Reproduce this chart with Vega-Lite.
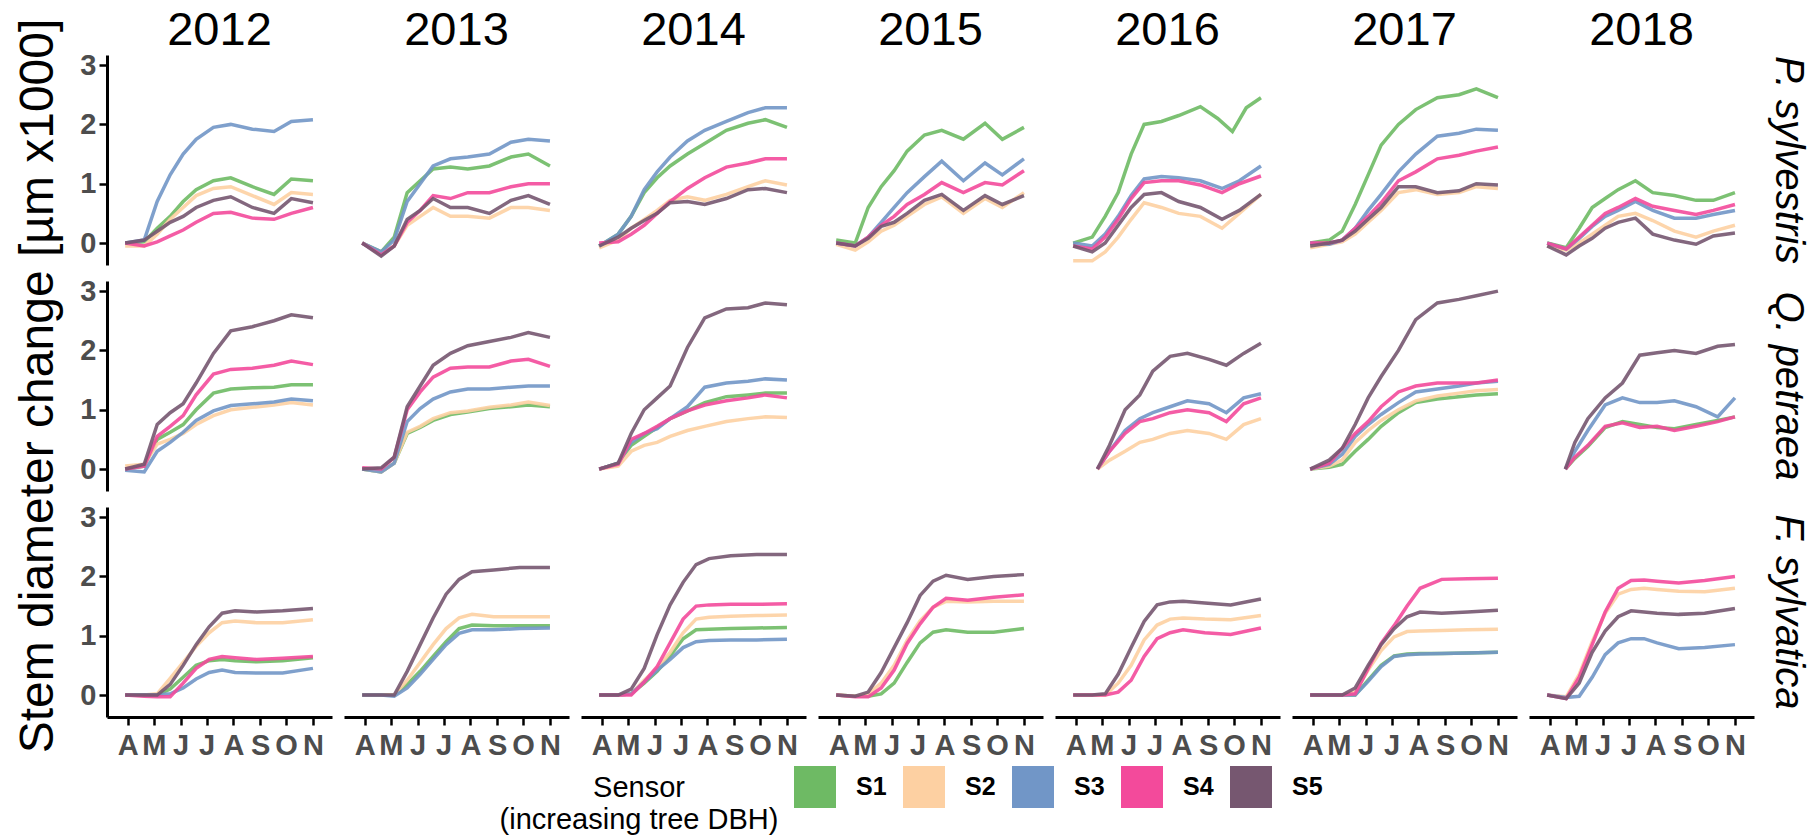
{
"$schema":"https://vega.github.io/schema/vega-lite/v6.json",
"padding":{"left":14,"top":7,"right":4,"bottom":2},
"data":{"values":[
{"c":2012,"r":1,"s":"S1","d":88,"v":0},{"c":2012,"r":1,"s":"S1","d":110,"v":0.02},{"c":2012,"r":1,"s":"S1","d":125,"v":0.25},{"c":2012,"r":1,"s":"S1","d":140,"v":0.45},{"c":2012,"r":1,"s":"S1","d":155,"v":0.7},{"c":2012,"r":1,"s":"S1","d":170,"v":0.9},{"c":2012,"r":1,"s":"S1","d":190,"v":1.05},{"c":2012,"r":1,"s":"S1","d":210,"v":1.1},{"c":2012,"r":1,"s":"S1","d":235,"v":0.95},{"c":2012,"r":1,"s":"S1","d":260,"v":0.82},{"c":2012,"r":1,"s":"S1","d":280,"v":1.08},{"c":2012,"r":1,"s":"S1","d":305,"v":1.05},
{"c":2012,"r":1,"s":"S2","d":88,"v":-0.05},{"c":2012,"r":1,"s":"S2","d":110,"v":-0.05},{"c":2012,"r":1,"s":"S2","d":125,"v":0.15},{"c":2012,"r":1,"s":"S2","d":140,"v":0.4},{"c":2012,"r":1,"s":"S2","d":155,"v":0.6},{"c":2012,"r":1,"s":"S2","d":170,"v":0.8},{"c":2012,"r":1,"s":"S2","d":190,"v":0.92},{"c":2012,"r":1,"s":"S2","d":210,"v":0.95},{"c":2012,"r":1,"s":"S2","d":235,"v":0.8},{"c":2012,"r":1,"s":"S2","d":260,"v":0.65},{"c":2012,"r":1,"s":"S2","d":280,"v":0.85},{"c":2012,"r":1,"s":"S2","d":305,"v":0.82},
{"c":2012,"r":1,"s":"S3","d":88,"v":0},{"c":2012,"r":1,"s":"S3","d":110,"v":0.05},{"c":2012,"r":1,"s":"S3","d":125,"v":0.7},{"c":2012,"r":1,"s":"S3","d":140,"v":1.15},{"c":2012,"r":1,"s":"S3","d":155,"v":1.5},{"c":2012,"r":1,"s":"S3","d":170,"v":1.75},{"c":2012,"r":1,"s":"S3","d":190,"v":1.95},{"c":2012,"r":1,"s":"S3","d":210,"v":2.0},{"c":2012,"r":1,"s":"S3","d":235,"v":1.92},{"c":2012,"r":1,"s":"S3","d":260,"v":1.88},{"c":2012,"r":1,"s":"S3","d":280,"v":2.05},{"c":2012,"r":1,"s":"S3","d":305,"v":2.08},
{"c":2012,"r":1,"s":"S4","d":88,"v":0},{"c":2012,"r":1,"s":"S4","d":110,"v":-0.05},{"c":2012,"r":1,"s":"S4","d":125,"v":0.02},{"c":2012,"r":1,"s":"S4","d":140,"v":0.12},{"c":2012,"r":1,"s":"S4","d":155,"v":0.22},{"c":2012,"r":1,"s":"S4","d":170,"v":0.35},{"c":2012,"r":1,"s":"S4","d":190,"v":0.5},{"c":2012,"r":1,"s":"S4","d":210,"v":0.52},{"c":2012,"r":1,"s":"S4","d":235,"v":0.42},{"c":2012,"r":1,"s":"S4","d":260,"v":0.4},{"c":2012,"r":1,"s":"S4","d":280,"v":0.5},{"c":2012,"r":1,"s":"S4","d":305,"v":0.6},
{"c":2012,"r":1,"s":"S5","d":88,"v":0},{"c":2012,"r":1,"s":"S5","d":110,"v":0.05},{"c":2012,"r":1,"s":"S5","d":125,"v":0.2},{"c":2012,"r":1,"s":"S5","d":140,"v":0.35},{"c":2012,"r":1,"s":"S5","d":155,"v":0.45},{"c":2012,"r":1,"s":"S5","d":170,"v":0.6},{"c":2012,"r":1,"s":"S5","d":190,"v":0.72},{"c":2012,"r":1,"s":"S5","d":210,"v":0.78},{"c":2012,"r":1,"s":"S5","d":235,"v":0.6},{"c":2012,"r":1,"s":"S5","d":260,"v":0.5},{"c":2012,"r":1,"s":"S5","d":280,"v":0.75},{"c":2012,"r":1,"s":"S5","d":305,"v":0.68},
{"c":2013,"r":1,"s":"S1","d":88,"v":0},{"c":2013,"r":1,"s":"S1","d":110,"v":-0.15},{"c":2013,"r":1,"s":"S1","d":125,"v":0.1},{"c":2013,"r":1,"s":"S1","d":140,"v":0.85},{"c":2013,"r":1,"s":"S1","d":155,"v":1.05},{"c":2013,"r":1,"s":"S1","d":170,"v":1.25},{"c":2013,"r":1,"s":"S1","d":190,"v":1.28},{"c":2013,"r":1,"s":"S1","d":210,"v":1.25},{"c":2013,"r":1,"s":"S1","d":235,"v":1.3},{"c":2013,"r":1,"s":"S1","d":260,"v":1.45},{"c":2013,"r":1,"s":"S1","d":280,"v":1.5},{"c":2013,"r":1,"s":"S1","d":305,"v":1.3},
{"c":2013,"r":1,"s":"S2","d":88,"v":0},{"c":2013,"r":1,"s":"S2","d":110,"v":-0.18},{"c":2013,"r":1,"s":"S2","d":125,"v":-0.05},{"c":2013,"r":1,"s":"S2","d":140,"v":0.3},{"c":2013,"r":1,"s":"S2","d":155,"v":0.45},{"c":2013,"r":1,"s":"S2","d":170,"v":0.6},{"c":2013,"r":1,"s":"S2","d":190,"v":0.45},{"c":2013,"r":1,"s":"S2","d":210,"v":0.45},{"c":2013,"r":1,"s":"S2","d":235,"v":0.42},{"c":2013,"r":1,"s":"S2","d":260,"v":0.6},{"c":2013,"r":1,"s":"S2","d":280,"v":0.6},{"c":2013,"r":1,"s":"S2","d":305,"v":0.55},
{"c":2013,"r":1,"s":"S3","d":88,"v":0},{"c":2013,"r":1,"s":"S3","d":110,"v":-0.15},{"c":2013,"r":1,"s":"S3","d":125,"v":0.05},{"c":2013,"r":1,"s":"S3","d":140,"v":0.7},{"c":2013,"r":1,"s":"S3","d":155,"v":1.0},{"c":2013,"r":1,"s":"S3","d":170,"v":1.3},{"c":2013,"r":1,"s":"S3","d":190,"v":1.42},{"c":2013,"r":1,"s":"S3","d":210,"v":1.45},{"c":2013,"r":1,"s":"S3","d":235,"v":1.5},{"c":2013,"r":1,"s":"S3","d":260,"v":1.7},{"c":2013,"r":1,"s":"S3","d":280,"v":1.75},{"c":2013,"r":1,"s":"S3","d":305,"v":1.72},
{"c":2013,"r":1,"s":"S4","d":88,"v":0},{"c":2013,"r":1,"s":"S4","d":110,"v":-0.2},{"c":2013,"r":1,"s":"S4","d":125,"v":-0.05},{"c":2013,"r":1,"s":"S4","d":140,"v":0.35},{"c":2013,"r":1,"s":"S4","d":155,"v":0.55},{"c":2013,"r":1,"s":"S4","d":170,"v":0.8},{"c":2013,"r":1,"s":"S4","d":190,"v":0.75},{"c":2013,"r":1,"s":"S4","d":210,"v":0.85},{"c":2013,"r":1,"s":"S4","d":235,"v":0.85},{"c":2013,"r":1,"s":"S4","d":260,"v":0.95},{"c":2013,"r":1,"s":"S4","d":280,"v":1.0},{"c":2013,"r":1,"s":"S4","d":305,"v":1.0},
{"c":2013,"r":1,"s":"S5","d":88,"v":0},{"c":2013,"r":1,"s":"S5","d":110,"v":-0.22},{"c":2013,"r":1,"s":"S5","d":125,"v":-0.05},{"c":2013,"r":1,"s":"S5","d":140,"v":0.4},{"c":2013,"r":1,"s":"S5","d":155,"v":0.55},{"c":2013,"r":1,"s":"S5","d":170,"v":0.75},{"c":2013,"r":1,"s":"S5","d":190,"v":0.6},{"c":2013,"r":1,"s":"S5","d":210,"v":0.6},{"c":2013,"r":1,"s":"S5","d":235,"v":0.5},{"c":2013,"r":1,"s":"S5","d":260,"v":0.72},{"c":2013,"r":1,"s":"S5","d":280,"v":0.8},{"c":2013,"r":1,"s":"S5","d":305,"v":0.65},
{"c":2014,"r":1,"s":"S1","d":88,"v":-0.05},{"c":2014,"r":1,"s":"S1","d":110,"v":0.15},{"c":2014,"r":1,"s":"S1","d":125,"v":0.45},{"c":2014,"r":1,"s":"S1","d":140,"v":0.85},{"c":2014,"r":1,"s":"S1","d":155,"v":1.1},{"c":2014,"r":1,"s":"S1","d":170,"v":1.3},{"c":2014,"r":1,"s":"S1","d":190,"v":1.5},{"c":2014,"r":1,"s":"S1","d":210,"v":1.68},{"c":2014,"r":1,"s":"S1","d":235,"v":1.9},{"c":2014,"r":1,"s":"S1","d":260,"v":2.02},{"c":2014,"r":1,"s":"S1","d":280,"v":2.08},{"c":2014,"r":1,"s":"S1","d":305,"v":1.95},
{"c":2014,"r":1,"s":"S2","d":88,"v":-0.08},{"c":2014,"r":1,"s":"S2","d":110,"v":0.05},{"c":2014,"r":1,"s":"S2","d":125,"v":0.25},{"c":2014,"r":1,"s":"S2","d":140,"v":0.4},{"c":2014,"r":1,"s":"S2","d":155,"v":0.55},{"c":2014,"r":1,"s":"S2","d":170,"v":0.72},{"c":2014,"r":1,"s":"S2","d":190,"v":0.78},{"c":2014,"r":1,"s":"S2","d":210,"v":0.72},{"c":2014,"r":1,"s":"S2","d":235,"v":0.82},{"c":2014,"r":1,"s":"S2","d":260,"v":0.95},{"c":2014,"r":1,"s":"S2","d":280,"v":1.05},{"c":2014,"r":1,"s":"S2","d":305,"v":0.98},
{"c":2014,"r":1,"s":"S3","d":88,"v":-0.05},{"c":2014,"r":1,"s":"S3","d":110,"v":0.15},{"c":2014,"r":1,"s":"S3","d":125,"v":0.45},{"c":2014,"r":1,"s":"S3","d":140,"v":0.9},{"c":2014,"r":1,"s":"S3","d":155,"v":1.2},{"c":2014,"r":1,"s":"S3","d":170,"v":1.45},{"c":2014,"r":1,"s":"S3","d":190,"v":1.72},{"c":2014,"r":1,"s":"S3","d":210,"v":1.9},{"c":2014,"r":1,"s":"S3","d":235,"v":2.05},{"c":2014,"r":1,"s":"S3","d":260,"v":2.2},{"c":2014,"r":1,"s":"S3","d":280,"v":2.28},{"c":2014,"r":1,"s":"S3","d":305,"v":2.28},
{"c":2014,"r":1,"s":"S4","d":88,"v":0},{"c":2014,"r":1,"s":"S4","d":110,"v":0.02},{"c":2014,"r":1,"s":"S4","d":125,"v":0.15},{"c":2014,"r":1,"s":"S4","d":140,"v":0.3},{"c":2014,"r":1,"s":"S4","d":155,"v":0.5},{"c":2014,"r":1,"s":"S4","d":170,"v":0.7},{"c":2014,"r":1,"s":"S4","d":190,"v":0.92},{"c":2014,"r":1,"s":"S4","d":210,"v":1.1},{"c":2014,"r":1,"s":"S4","d":235,"v":1.28},{"c":2014,"r":1,"s":"S4","d":260,"v":1.35},{"c":2014,"r":1,"s":"S4","d":280,"v":1.42},{"c":2014,"r":1,"s":"S4","d":305,"v":1.42},
{"c":2014,"r":1,"s":"S5","d":88,"v":-0.05},{"c":2014,"r":1,"s":"S5","d":110,"v":0.1},{"c":2014,"r":1,"s":"S5","d":125,"v":0.25},{"c":2014,"r":1,"s":"S5","d":140,"v":0.38},{"c":2014,"r":1,"s":"S5","d":155,"v":0.5},{"c":2014,"r":1,"s":"S5","d":170,"v":0.68},{"c":2014,"r":1,"s":"S5","d":190,"v":0.7},{"c":2014,"r":1,"s":"S5","d":210,"v":0.65},{"c":2014,"r":1,"s":"S5","d":235,"v":0.75},{"c":2014,"r":1,"s":"S5","d":260,"v":0.9},{"c":2014,"r":1,"s":"S5","d":280,"v":0.92},{"c":2014,"r":1,"s":"S5","d":305,"v":0.85},
{"c":2015,"r":1,"s":"S1","d":88,"v":0.05},{"c":2015,"r":1,"s":"S1","d":110,"v":0},{"c":2015,"r":1,"s":"S1","d":125,"v":0.6},{"c":2015,"r":1,"s":"S1","d":140,"v":0.95},{"c":2015,"r":1,"s":"S1","d":155,"v":1.22},{"c":2015,"r":1,"s":"S1","d":170,"v":1.55},{"c":2015,"r":1,"s":"S1","d":190,"v":1.82},{"c":2015,"r":1,"s":"S1","d":210,"v":1.9},{"c":2015,"r":1,"s":"S1","d":235,"v":1.75},{"c":2015,"r":1,"s":"S1","d":260,"v":2.02},{"c":2015,"r":1,"s":"S1","d":280,"v":1.75},{"c":2015,"r":1,"s":"S1","d":305,"v":1.95},
{"c":2015,"r":1,"s":"S2","d":88,"v":-0.02},{"c":2015,"r":1,"s":"S2","d":110,"v":-0.12},{"c":2015,"r":1,"s":"S2","d":125,"v":0.02},{"c":2015,"r":1,"s":"S2","d":140,"v":0.2},{"c":2015,"r":1,"s":"S2","d":155,"v":0.3},{"c":2015,"r":1,"s":"S2","d":170,"v":0.45},{"c":2015,"r":1,"s":"S2","d":190,"v":0.65},{"c":2015,"r":1,"s":"S2","d":210,"v":0.78},{"c":2015,"r":1,"s":"S2","d":235,"v":0.5},{"c":2015,"r":1,"s":"S2","d":260,"v":0.75},{"c":2015,"r":1,"s":"S2","d":280,"v":0.6},{"c":2015,"r":1,"s":"S2","d":305,"v":0.85},
{"c":2015,"r":1,"s":"S3","d":88,"v":0},{"c":2015,"r":1,"s":"S3","d":110,"v":-0.05},{"c":2015,"r":1,"s":"S3","d":125,"v":0.1},{"c":2015,"r":1,"s":"S3","d":140,"v":0.35},{"c":2015,"r":1,"s":"S3","d":155,"v":0.6},{"c":2015,"r":1,"s":"S3","d":170,"v":0.85},{"c":2015,"r":1,"s":"S3","d":190,"v":1.12},{"c":2015,"r":1,"s":"S3","d":210,"v":1.38},{"c":2015,"r":1,"s":"S3","d":235,"v":1.05},{"c":2015,"r":1,"s":"S3","d":260,"v":1.35},{"c":2015,"r":1,"s":"S3","d":280,"v":1.15},{"c":2015,"r":1,"s":"S3","d":305,"v":1.42},
{"c":2015,"r":1,"s":"S4","d":88,"v":0},{"c":2015,"r":1,"s":"S4","d":110,"v":-0.05},{"c":2015,"r":1,"s":"S4","d":125,"v":0.1},{"c":2015,"r":1,"s":"S4","d":140,"v":0.3},{"c":2015,"r":1,"s":"S4","d":155,"v":0.45},{"c":2015,"r":1,"s":"S4","d":170,"v":0.65},{"c":2015,"r":1,"s":"S4","d":190,"v":0.82},{"c":2015,"r":1,"s":"S4","d":210,"v":1.02},{"c":2015,"r":1,"s":"S4","d":235,"v":0.85},{"c":2015,"r":1,"s":"S4","d":260,"v":1.02},{"c":2015,"r":1,"s":"S4","d":280,"v":0.98},{"c":2015,"r":1,"s":"S4","d":305,"v":1.22},
{"c":2015,"r":1,"s":"S5","d":88,"v":0},{"c":2015,"r":1,"s":"S5","d":110,"v":-0.05},{"c":2015,"r":1,"s":"S5","d":125,"v":0.08},{"c":2015,"r":1,"s":"S5","d":140,"v":0.28},{"c":2015,"r":1,"s":"S5","d":155,"v":0.35},{"c":2015,"r":1,"s":"S5","d":170,"v":0.5},{"c":2015,"r":1,"s":"S5","d":190,"v":0.72},{"c":2015,"r":1,"s":"S5","d":210,"v":0.82},{"c":2015,"r":1,"s":"S5","d":235,"v":0.55},{"c":2015,"r":1,"s":"S5","d":260,"v":0.8},{"c":2015,"r":1,"s":"S5","d":280,"v":0.65},{"c":2015,"r":1,"s":"S5","d":305,"v":0.8},
{"c":2016,"r":1,"s":"S1","d":88,"v":0},{"c":2016,"r":1,"s":"S1","d":110,"v":0.1},{"c":2016,"r":1,"s":"S1","d":125,"v":0.45},{"c":2016,"r":1,"s":"S1","d":140,"v":0.85},{"c":2016,"r":1,"s":"S1","d":155,"v":1.5},{"c":2016,"r":1,"s":"S1","d":170,"v":2.0},{"c":2016,"r":1,"s":"S1","d":190,"v":2.05},{"c":2016,"r":1,"s":"S1","d":210,"v":2.15},{"c":2016,"r":1,"s":"S1","d":235,"v":2.3},{"c":2016,"r":1,"s":"S1","d":255,"v":2.1},{"c":2016,"r":1,"s":"S1","d":272,"v":1.88},{"c":2016,"r":1,"s":"S1","d":288,"v":2.28},{"c":2016,"r":1,"s":"S1","d":305,"v":2.45},
{"c":2016,"r":1,"s":"S2","d":88,"v":-0.3},{"c":2016,"r":1,"s":"S2","d":110,"v":-0.3},{"c":2016,"r":1,"s":"S2","d":125,"v":-0.15},{"c":2016,"r":1,"s":"S2","d":140,"v":0.1},{"c":2016,"r":1,"s":"S2","d":155,"v":0.4},{"c":2016,"r":1,"s":"S2","d":170,"v":0.68},{"c":2016,"r":1,"s":"S2","d":190,"v":0.6},{"c":2016,"r":1,"s":"S2","d":210,"v":0.5},{"c":2016,"r":1,"s":"S2","d":235,"v":0.45},{"c":2016,"r":1,"s":"S2","d":260,"v":0.25},{"c":2016,"r":1,"s":"S2","d":280,"v":0.5},{"c":2016,"r":1,"s":"S2","d":305,"v":0.82},
{"c":2016,"r":1,"s":"S3","d":88,"v":0},{"c":2016,"r":1,"s":"S3","d":110,"v":-0.05},{"c":2016,"r":1,"s":"S3","d":125,"v":0.15},{"c":2016,"r":1,"s":"S3","d":140,"v":0.45},{"c":2016,"r":1,"s":"S3","d":155,"v":0.8},{"c":2016,"r":1,"s":"S3","d":170,"v":1.08},{"c":2016,"r":1,"s":"S3","d":190,"v":1.12},{"c":2016,"r":1,"s":"S3","d":210,"v":1.1},{"c":2016,"r":1,"s":"S3","d":235,"v":1.05},{"c":2016,"r":1,"s":"S3","d":260,"v":0.92},{"c":2016,"r":1,"s":"S3","d":280,"v":1.05},{"c":2016,"r":1,"s":"S3","d":305,"v":1.3},
{"c":2016,"r":1,"s":"S4","d":88,"v":-0.05},{"c":2016,"r":1,"s":"S4","d":110,"v":-0.1},{"c":2016,"r":1,"s":"S4","d":125,"v":0.1},{"c":2016,"r":1,"s":"S4","d":140,"v":0.4},{"c":2016,"r":1,"s":"S4","d":155,"v":0.75},{"c":2016,"r":1,"s":"S4","d":170,"v":1.02},{"c":2016,"r":1,"s":"S4","d":190,"v":1.05},{"c":2016,"r":1,"s":"S4","d":210,"v":1.05},{"c":2016,"r":1,"s":"S4","d":235,"v":0.98},{"c":2016,"r":1,"s":"S4","d":260,"v":0.85},{"c":2016,"r":1,"s":"S4","d":280,"v":1.0},{"c":2016,"r":1,"s":"S4","d":305,"v":1.13},
{"c":2016,"r":1,"s":"S5","d":88,"v":-0.05},{"c":2016,"r":1,"s":"S5","d":110,"v":-0.15},{"c":2016,"r":1,"s":"S5","d":125,"v":0},{"c":2016,"r":1,"s":"S5","d":140,"v":0.3},{"c":2016,"r":1,"s":"S5","d":155,"v":0.6},{"c":2016,"r":1,"s":"S5","d":170,"v":0.82},{"c":2016,"r":1,"s":"S5","d":190,"v":0.85},{"c":2016,"r":1,"s":"S5","d":210,"v":0.7},{"c":2016,"r":1,"s":"S5","d":235,"v":0.6},{"c":2016,"r":1,"s":"S5","d":260,"v":0.4},{"c":2016,"r":1,"s":"S5","d":280,"v":0.55},{"c":2016,"r":1,"s":"S5","d":305,"v":0.82},
{"c":2017,"r":1,"s":"S1","d":88,"v":0},{"c":2017,"r":1,"s":"S1","d":110,"v":0.05},{"c":2017,"r":1,"s":"S1","d":125,"v":0.2},{"c":2017,"r":1,"s":"S1","d":140,"v":0.65},{"c":2017,"r":1,"s":"S1","d":155,"v":1.15},{"c":2017,"r":1,"s":"S1","d":170,"v":1.65},{"c":2017,"r":1,"s":"S1","d":190,"v":2.0},{"c":2017,"r":1,"s":"S1","d":210,"v":2.25},{"c":2017,"r":1,"s":"S1","d":235,"v":2.45},{"c":2017,"r":1,"s":"S1","d":260,"v":2.5},{"c":2017,"r":1,"s":"S1","d":280,"v":2.6},{"c":2017,"r":1,"s":"S1","d":305,"v":2.45},
{"c":2017,"r":1,"s":"S2","d":88,"v":-0.08},{"c":2017,"r":1,"s":"S2","d":110,"v":-0.02},{"c":2017,"r":1,"s":"S2","d":125,"v":0.02},{"c":2017,"r":1,"s":"S2","d":140,"v":0.15},{"c":2017,"r":1,"s":"S2","d":155,"v":0.35},{"c":2017,"r":1,"s":"S2","d":170,"v":0.55},{"c":2017,"r":1,"s":"S2","d":190,"v":0.85},{"c":2017,"r":1,"s":"S2","d":210,"v":0.9},{"c":2017,"r":1,"s":"S2","d":235,"v":0.82},{"c":2017,"r":1,"s":"S2","d":260,"v":0.85},{"c":2017,"r":1,"s":"S2","d":280,"v":0.95},{"c":2017,"r":1,"s":"S2","d":305,"v":0.92},
{"c":2017,"r":1,"s":"S3","d":88,"v":0},{"c":2017,"r":1,"s":"S3","d":110,"v":-0.02},{"c":2017,"r":1,"s":"S3","d":125,"v":0.05},{"c":2017,"r":1,"s":"S3","d":140,"v":0.25},{"c":2017,"r":1,"s":"S3","d":155,"v":0.55},{"c":2017,"r":1,"s":"S3","d":170,"v":0.82},{"c":2017,"r":1,"s":"S3","d":190,"v":1.2},{"c":2017,"r":1,"s":"S3","d":210,"v":1.5},{"c":2017,"r":1,"s":"S3","d":235,"v":1.8},{"c":2017,"r":1,"s":"S3","d":260,"v":1.85},{"c":2017,"r":1,"s":"S3","d":280,"v":1.92},{"c":2017,"r":1,"s":"S3","d":305,"v":1.9},
{"c":2017,"r":1,"s":"S4","d":88,"v":0},{"c":2017,"r":1,"s":"S4","d":110,"v":0},{"c":2017,"r":1,"s":"S4","d":125,"v":0.05},{"c":2017,"r":1,"s":"S4","d":140,"v":0.25},{"c":2017,"r":1,"s":"S4","d":155,"v":0.45},{"c":2017,"r":1,"s":"S4","d":170,"v":0.68},{"c":2017,"r":1,"s":"S4","d":190,"v":1.05},{"c":2017,"r":1,"s":"S4","d":210,"v":1.2},{"c":2017,"r":1,"s":"S4","d":235,"v":1.42},{"c":2017,"r":1,"s":"S4","d":260,"v":1.48},{"c":2017,"r":1,"s":"S4","d":280,"v":1.55},{"c":2017,"r":1,"s":"S4","d":305,"v":1.62},
{"c":2017,"r":1,"s":"S5","d":88,"v":-0.05},{"c":2017,"r":1,"s":"S5","d":110,"v":0},{"c":2017,"r":1,"s":"S5","d":125,"v":0.05},{"c":2017,"r":1,"s":"S5","d":140,"v":0.2},{"c":2017,"r":1,"s":"S5","d":155,"v":0.4},{"c":2017,"r":1,"s":"S5","d":170,"v":0.6},{"c":2017,"r":1,"s":"S5","d":190,"v":0.95},{"c":2017,"r":1,"s":"S5","d":210,"v":0.95},{"c":2017,"r":1,"s":"S5","d":235,"v":0.85},{"c":2017,"r":1,"s":"S5","d":260,"v":0.88},{"c":2017,"r":1,"s":"S5","d":280,"v":1.0},{"c":2017,"r":1,"s":"S5","d":305,"v":0.98},
{"c":2018,"r":1,"s":"S1","d":88,"v":0},{"c":2018,"r":1,"s":"S1","d":110,"v":-0.08},{"c":2018,"r":1,"s":"S1","d":125,"v":0.25},{"c":2018,"r":1,"s":"S1","d":140,"v":0.6},{"c":2018,"r":1,"s":"S1","d":155,"v":0.75},{"c":2018,"r":1,"s":"S1","d":170,"v":0.9},{"c":2018,"r":1,"s":"S1","d":190,"v":1.05},{"c":2018,"r":1,"s":"S1","d":210,"v":0.85},{"c":2018,"r":1,"s":"S1","d":235,"v":0.8},{"c":2018,"r":1,"s":"S1","d":260,"v":0.72},{"c":2018,"r":1,"s":"S1","d":280,"v":0.72},{"c":2018,"r":1,"s":"S1","d":305,"v":0.85},
{"c":2018,"r":1,"s":"S2","d":88,"v":-0.05},{"c":2018,"r":1,"s":"S2","d":110,"v":-0.12},{"c":2018,"r":1,"s":"S2","d":125,"v":0},{"c":2018,"r":1,"s":"S2","d":140,"v":0.15},{"c":2018,"r":1,"s":"S2","d":155,"v":0.3},{"c":2018,"r":1,"s":"S2","d":170,"v":0.45},{"c":2018,"r":1,"s":"S2","d":190,"v":0.5},{"c":2018,"r":1,"s":"S2","d":210,"v":0.38},{"c":2018,"r":1,"s":"S2","d":235,"v":0.2},{"c":2018,"r":1,"s":"S2","d":260,"v":0.1},{"c":2018,"r":1,"s":"S2","d":280,"v":0.2},{"c":2018,"r":1,"s":"S2","d":305,"v":0.3},
{"c":2018,"r":1,"s":"S3","d":88,"v":0},{"c":2018,"r":1,"s":"S3","d":110,"v":-0.1},{"c":2018,"r":1,"s":"S3","d":125,"v":0.08},{"c":2018,"r":1,"s":"S3","d":140,"v":0.28},{"c":2018,"r":1,"s":"S3","d":155,"v":0.45},{"c":2018,"r":1,"s":"S3","d":170,"v":0.55},{"c":2018,"r":1,"s":"S3","d":190,"v":0.7},{"c":2018,"r":1,"s":"S3","d":210,"v":0.55},{"c":2018,"r":1,"s":"S3","d":235,"v":0.42},{"c":2018,"r":1,"s":"S3","d":260,"v":0.42},{"c":2018,"r":1,"s":"S3","d":280,"v":0.48},{"c":2018,"r":1,"s":"S3","d":305,"v":0.55},
{"c":2018,"r":1,"s":"S4","d":88,"v":0},{"c":2018,"r":1,"s":"S4","d":110,"v":-0.1},{"c":2018,"r":1,"s":"S4","d":125,"v":0.1},{"c":2018,"r":1,"s":"S4","d":140,"v":0.3},{"c":2018,"r":1,"s":"S4","d":155,"v":0.5},{"c":2018,"r":1,"s":"S4","d":170,"v":0.6},{"c":2018,"r":1,"s":"S4","d":190,"v":0.75},{"c":2018,"r":1,"s":"S4","d":210,"v":0.62},{"c":2018,"r":1,"s":"S4","d":235,"v":0.55},{"c":2018,"r":1,"s":"S4","d":260,"v":0.48},{"c":2018,"r":1,"s":"S4","d":280,"v":0.55},{"c":2018,"r":1,"s":"S4","d":305,"v":0.65},
{"c":2018,"r":1,"s":"S5","d":88,"v":-0.05},{"c":2018,"r":1,"s":"S5","d":110,"v":-0.2},{"c":2018,"r":1,"s":"S5","d":125,"v":-0.05},{"c":2018,"r":1,"s":"S5","d":140,"v":0.08},{"c":2018,"r":1,"s":"S5","d":155,"v":0.25},{"c":2018,"r":1,"s":"S5","d":170,"v":0.35},{"c":2018,"r":1,"s":"S5","d":190,"v":0.42},{"c":2018,"r":1,"s":"S5","d":210,"v":0.15},{"c":2018,"r":1,"s":"S5","d":235,"v":0.05},{"c":2018,"r":1,"s":"S5","d":260,"v":-0.02},{"c":2018,"r":1,"s":"S5","d":280,"v":0.12},{"c":2018,"r":1,"s":"S5","d":305,"v":0.17},
{"c":2012,"r":2,"s":"S1","d":88,"v":0},{"c":2012,"r":2,"s":"S1","d":110,"v":0.05},{"c":2012,"r":2,"s":"S1","d":125,"v":0.5},{"c":2012,"r":2,"s":"S1","d":140,"v":0.62},{"c":2012,"r":2,"s":"S1","d":155,"v":0.75},{"c":2012,"r":2,"s":"S1","d":170,"v":1.0},{"c":2012,"r":2,"s":"S1","d":190,"v":1.28},{"c":2012,"r":2,"s":"S1","d":210,"v":1.35},{"c":2012,"r":2,"s":"S1","d":235,"v":1.37},{"c":2012,"r":2,"s":"S1","d":260,"v":1.38},{"c":2012,"r":2,"s":"S1","d":280,"v":1.42},{"c":2012,"r":2,"s":"S1","d":305,"v":1.42},
{"c":2012,"r":2,"s":"S2","d":88,"v":0.05},{"c":2012,"r":2,"s":"S2","d":110,"v":0.08},{"c":2012,"r":2,"s":"S2","d":125,"v":0.42},{"c":2012,"r":2,"s":"S2","d":140,"v":0.5},{"c":2012,"r":2,"s":"S2","d":155,"v":0.6},{"c":2012,"r":2,"s":"S2","d":170,"v":0.75},{"c":2012,"r":2,"s":"S2","d":190,"v":0.9},{"c":2012,"r":2,"s":"S2","d":210,"v":1.0},{"c":2012,"r":2,"s":"S2","d":235,"v":1.04},{"c":2012,"r":2,"s":"S2","d":260,"v":1.08},{"c":2012,"r":2,"s":"S2","d":280,"v":1.12},{"c":2012,"r":2,"s":"S2","d":305,"v":1.08},
{"c":2012,"r":2,"s":"S3","d":88,"v":-0.02},{"c":2012,"r":2,"s":"S3","d":110,"v":-0.05},{"c":2012,"r":2,"s":"S3","d":125,"v":0.3},{"c":2012,"r":2,"s":"S3","d":140,"v":0.45},{"c":2012,"r":2,"s":"S3","d":155,"v":0.62},{"c":2012,"r":2,"s":"S3","d":170,"v":0.82},{"c":2012,"r":2,"s":"S3","d":190,"v":0.98},{"c":2012,"r":2,"s":"S3","d":210,"v":1.07},{"c":2012,"r":2,"s":"S3","d":235,"v":1.1},{"c":2012,"r":2,"s":"S3","d":260,"v":1.13},{"c":2012,"r":2,"s":"S3","d":280,"v":1.18},{"c":2012,"r":2,"s":"S3","d":305,"v":1.15},
{"c":2012,"r":2,"s":"S4","d":88,"v":0},{"c":2012,"r":2,"s":"S4","d":110,"v":0.05},{"c":2012,"r":2,"s":"S4","d":125,"v":0.55},{"c":2012,"r":2,"s":"S4","d":140,"v":0.72},{"c":2012,"r":2,"s":"S4","d":155,"v":0.9},{"c":2012,"r":2,"s":"S4","d":170,"v":1.25},{"c":2012,"r":2,"s":"S4","d":190,"v":1.6},{"c":2012,"r":2,"s":"S4","d":210,"v":1.68},{"c":2012,"r":2,"s":"S4","d":235,"v":1.7},{"c":2012,"r":2,"s":"S4","d":260,"v":1.75},{"c":2012,"r":2,"s":"S4","d":280,"v":1.82},{"c":2012,"r":2,"s":"S4","d":305,"v":1.76},
{"c":2012,"r":2,"s":"S5","d":88,"v":0},{"c":2012,"r":2,"s":"S5","d":110,"v":0.08},{"c":2012,"r":2,"s":"S5","d":125,"v":0.75},{"c":2012,"r":2,"s":"S5","d":140,"v":0.95},{"c":2012,"r":2,"s":"S5","d":155,"v":1.1},{"c":2012,"r":2,"s":"S5","d":170,"v":1.45},{"c":2012,"r":2,"s":"S5","d":190,"v":1.95},{"c":2012,"r":2,"s":"S5","d":210,"v":2.33},{"c":2012,"r":2,"s":"S5","d":235,"v":2.4},{"c":2012,"r":2,"s":"S5","d":260,"v":2.5},{"c":2012,"r":2,"s":"S5","d":280,"v":2.6},{"c":2012,"r":2,"s":"S5","d":305,"v":2.55},
{"c":2013,"r":2,"s":"S1","d":88,"v":0},{"c":2013,"r":2,"s":"S1","d":110,"v":-0.05},{"c":2013,"r":2,"s":"S1","d":125,"v":0.1},{"c":2013,"r":2,"s":"S1","d":140,"v":0.6},{"c":2013,"r":2,"s":"S1","d":155,"v":0.7},{"c":2013,"r":2,"s":"S1","d":170,"v":0.82},{"c":2013,"r":2,"s":"S1","d":190,"v":0.92},{"c":2013,"r":2,"s":"S1","d":210,"v":0.96},{"c":2013,"r":2,"s":"S1","d":235,"v":1.02},{"c":2013,"r":2,"s":"S1","d":260,"v":1.05},{"c":2013,"r":2,"s":"S1","d":280,"v":1.08},{"c":2013,"r":2,"s":"S1","d":305,"v":1.05},
{"c":2013,"r":2,"s":"S2","d":88,"v":0},{"c":2013,"r":2,"s":"S2","d":110,"v":-0.05},{"c":2013,"r":2,"s":"S2","d":125,"v":0.1},{"c":2013,"r":2,"s":"S2","d":140,"v":0.62},{"c":2013,"r":2,"s":"S2","d":155,"v":0.72},{"c":2013,"r":2,"s":"S2","d":170,"v":0.85},{"c":2013,"r":2,"s":"S2","d":190,"v":0.95},{"c":2013,"r":2,"s":"S2","d":210,"v":0.98},{"c":2013,"r":2,"s":"S2","d":235,"v":1.04},{"c":2013,"r":2,"s":"S2","d":260,"v":1.08},{"c":2013,"r":2,"s":"S2","d":280,"v":1.13},{"c":2013,"r":2,"s":"S2","d":305,"v":1.07},
{"c":2013,"r":2,"s":"S3","d":88,"v":0},{"c":2013,"r":2,"s":"S3","d":110,"v":-0.05},{"c":2013,"r":2,"s":"S3","d":125,"v":0.1},{"c":2013,"r":2,"s":"S3","d":140,"v":0.8},{"c":2013,"r":2,"s":"S3","d":155,"v":1.02},{"c":2013,"r":2,"s":"S3","d":170,"v":1.18},{"c":2013,"r":2,"s":"S3","d":190,"v":1.3},{"c":2013,"r":2,"s":"S3","d":210,"v":1.35},{"c":2013,"r":2,"s":"S3","d":235,"v":1.35},{"c":2013,"r":2,"s":"S3","d":260,"v":1.38},{"c":2013,"r":2,"s":"S3","d":280,"v":1.4},{"c":2013,"r":2,"s":"S3","d":305,"v":1.4},
{"c":2013,"r":2,"s":"S4","d":88,"v":0.02},{"c":2013,"r":2,"s":"S4","d":110,"v":0},{"c":2013,"r":2,"s":"S4","d":125,"v":0.2},{"c":2013,"r":2,"s":"S4","d":140,"v":1.0},{"c":2013,"r":2,"s":"S4","d":155,"v":1.3},{"c":2013,"r":2,"s":"S4","d":170,"v":1.55},{"c":2013,"r":2,"s":"S4","d":190,"v":1.7},{"c":2013,"r":2,"s":"S4","d":210,"v":1.72},{"c":2013,"r":2,"s":"S4","d":235,"v":1.72},{"c":2013,"r":2,"s":"S4","d":260,"v":1.82},{"c":2013,"r":2,"s":"S4","d":280,"v":1.85},{"c":2013,"r":2,"s":"S4","d":305,"v":1.73},
{"c":2013,"r":2,"s":"S5","d":88,"v":0},{"c":2013,"r":2,"s":"S5","d":110,"v":0.02},{"c":2013,"r":2,"s":"S5","d":125,"v":0.2},{"c":2013,"r":2,"s":"S5","d":140,"v":1.05},{"c":2013,"r":2,"s":"S5","d":155,"v":1.4},{"c":2013,"r":2,"s":"S5","d":170,"v":1.75},{"c":2013,"r":2,"s":"S5","d":190,"v":1.95},{"c":2013,"r":2,"s":"S5","d":210,"v":2.08},{"c":2013,"r":2,"s":"S5","d":235,"v":2.15},{"c":2013,"r":2,"s":"S5","d":260,"v":2.22},{"c":2013,"r":2,"s":"S5","d":280,"v":2.3},{"c":2013,"r":2,"s":"S5","d":305,"v":2.22},
{"c":2014,"r":2,"s":"S1","d":88,"v":0},{"c":2014,"r":2,"s":"S1","d":110,"v":0.1},{"c":2014,"r":2,"s":"S1","d":125,"v":0.4},{"c":2014,"r":2,"s":"S1","d":140,"v":0.55},{"c":2014,"r":2,"s":"S1","d":155,"v":0.7},{"c":2014,"r":2,"s":"S1","d":170,"v":0.85},{"c":2014,"r":2,"s":"S1","d":190,"v":0.98},{"c":2014,"r":2,"s":"S1","d":210,"v":1.12},{"c":2014,"r":2,"s":"S1","d":235,"v":1.22},{"c":2014,"r":2,"s":"S1","d":260,"v":1.25},{"c":2014,"r":2,"s":"S1","d":280,"v":1.28},{"c":2014,"r":2,"s":"S1","d":305,"v":1.28},
{"c":2014,"r":2,"s":"S2","d":88,"v":0},{"c":2014,"r":2,"s":"S2","d":110,"v":0.05},{"c":2014,"r":2,"s":"S2","d":125,"v":0.3},{"c":2014,"r":2,"s":"S2","d":140,"v":0.4},{"c":2014,"r":2,"s":"S2","d":155,"v":0.45},{"c":2014,"r":2,"s":"S2","d":170,"v":0.55},{"c":2014,"r":2,"s":"S2","d":190,"v":0.65},{"c":2014,"r":2,"s":"S2","d":210,"v":0.72},{"c":2014,"r":2,"s":"S2","d":235,"v":0.8},{"c":2014,"r":2,"s":"S2","d":260,"v":0.85},{"c":2014,"r":2,"s":"S2","d":280,"v":0.88},{"c":2014,"r":2,"s":"S2","d":305,"v":0.87},
{"c":2014,"r":2,"s":"S3","d":88,"v":0},{"c":2014,"r":2,"s":"S3","d":110,"v":0.1},{"c":2014,"r":2,"s":"S3","d":125,"v":0.45},{"c":2014,"r":2,"s":"S3","d":140,"v":0.6},{"c":2014,"r":2,"s":"S3","d":155,"v":0.68},{"c":2014,"r":2,"s":"S3","d":170,"v":0.85},{"c":2014,"r":2,"s":"S3","d":190,"v":1.05},{"c":2014,"r":2,"s":"S3","d":210,"v":1.38},{"c":2014,"r":2,"s":"S3","d":235,"v":1.45},{"c":2014,"r":2,"s":"S3","d":260,"v":1.48},{"c":2014,"r":2,"s":"S3","d":280,"v":1.52},{"c":2014,"r":2,"s":"S3","d":305,"v":1.5},
{"c":2014,"r":2,"s":"S4","d":88,"v":0},{"c":2014,"r":2,"s":"S4","d":110,"v":0.08},{"c":2014,"r":2,"s":"S4","d":125,"v":0.5},{"c":2014,"r":2,"s":"S4","d":140,"v":0.6},{"c":2014,"r":2,"s":"S4","d":155,"v":0.72},{"c":2014,"r":2,"s":"S4","d":170,"v":0.85},{"c":2014,"r":2,"s":"S4","d":190,"v":0.98},{"c":2014,"r":2,"s":"S4","d":210,"v":1.08},{"c":2014,"r":2,"s":"S4","d":235,"v":1.15},{"c":2014,"r":2,"s":"S4","d":260,"v":1.2},{"c":2014,"r":2,"s":"S4","d":280,"v":1.25},{"c":2014,"r":2,"s":"S4","d":305,"v":1.2},
{"c":2014,"r":2,"s":"S5","d":88,"v":0},{"c":2014,"r":2,"s":"S5","d":110,"v":0.1},{"c":2014,"r":2,"s":"S5","d":125,"v":0.6},{"c":2014,"r":2,"s":"S5","d":140,"v":1.0},{"c":2014,"r":2,"s":"S5","d":155,"v":1.2},{"c":2014,"r":2,"s":"S5","d":170,"v":1.4},{"c":2014,"r":2,"s":"S5","d":190,"v":2.05},{"c":2014,"r":2,"s":"S5","d":210,"v":2.55},{"c":2014,"r":2,"s":"S5","d":235,"v":2.7},{"c":2014,"r":2,"s":"S5","d":260,"v":2.72},{"c":2014,"r":2,"s":"S5","d":280,"v":2.8},{"c":2014,"r":2,"s":"S5","d":305,"v":2.77},
{"c":2016,"r":2,"s":"S2","d":116,"v":0},{"c":2016,"r":2,"s":"S2","d":130,"v":0.15},{"c":2016,"r":2,"s":"S2","d":148,"v":0.3},{"c":2016,"r":2,"s":"S2","d":165,"v":0.45},{"c":2016,"r":2,"s":"S2","d":180,"v":0.5},{"c":2016,"r":2,"s":"S2","d":200,"v":0.6},{"c":2016,"r":2,"s":"S2","d":220,"v":0.65},{"c":2016,"r":2,"s":"S2","d":245,"v":0.6},{"c":2016,"r":2,"s":"S2","d":265,"v":0.5},{"c":2016,"r":2,"s":"S2","d":285,"v":0.75},{"c":2016,"r":2,"s":"S2","d":305,"v":0.85},
{"c":2016,"r":2,"s":"S3","d":116,"v":0},{"c":2016,"r":2,"s":"S3","d":130,"v":0.3},{"c":2016,"r":2,"s":"S3","d":148,"v":0.65},{"c":2016,"r":2,"s":"S3","d":165,"v":0.85},{"c":2016,"r":2,"s":"S3","d":180,"v":0.95},{"c":2016,"r":2,"s":"S3","d":200,"v":1.05},{"c":2016,"r":2,"s":"S3","d":220,"v":1.15},{"c":2016,"r":2,"s":"S3","d":245,"v":1.1},{"c":2016,"r":2,"s":"S3","d":265,"v":0.95},{"c":2016,"r":2,"s":"S3","d":285,"v":1.2},{"c":2016,"r":2,"s":"S3","d":305,"v":1.27},
{"c":2016,"r":2,"s":"S4","d":116,"v":0},{"c":2016,"r":2,"s":"S4","d":130,"v":0.3},{"c":2016,"r":2,"s":"S4","d":148,"v":0.6},{"c":2016,"r":2,"s":"S4","d":165,"v":0.8},{"c":2016,"r":2,"s":"S4","d":180,"v":0.85},{"c":2016,"r":2,"s":"S4","d":200,"v":0.95},{"c":2016,"r":2,"s":"S4","d":220,"v":1.0},{"c":2016,"r":2,"s":"S4","d":245,"v":0.95},{"c":2016,"r":2,"s":"S4","d":265,"v":0.8},{"c":2016,"r":2,"s":"S4","d":285,"v":1.1},{"c":2016,"r":2,"s":"S4","d":305,"v":1.2},
{"c":2016,"r":2,"s":"S5","d":116,"v":0},{"c":2016,"r":2,"s":"S5","d":130,"v":0.4},{"c":2016,"r":2,"s":"S5","d":148,"v":1.0},{"c":2016,"r":2,"s":"S5","d":165,"v":1.25},{"c":2016,"r":2,"s":"S5","d":180,"v":1.65},{"c":2016,"r":2,"s":"S5","d":200,"v":1.9},{"c":2016,"r":2,"s":"S5","d":220,"v":1.95},{"c":2016,"r":2,"s":"S5","d":245,"v":1.85},{"c":2016,"r":2,"s":"S5","d":265,"v":1.75},{"c":2016,"r":2,"s":"S5","d":285,"v":1.95},{"c":2016,"r":2,"s":"S5","d":305,"v":2.12},
{"c":2017,"r":2,"s":"S1","d":88,"v":0},{"c":2017,"r":2,"s":"S1","d":110,"v":0.03},{"c":2017,"r":2,"s":"S1","d":125,"v":0.08},{"c":2017,"r":2,"s":"S1","d":140,"v":0.3},{"c":2017,"r":2,"s":"S1","d":155,"v":0.5},{"c":2017,"r":2,"s":"S1","d":170,"v":0.72},{"c":2017,"r":2,"s":"S1","d":190,"v":0.95},{"c":2017,"r":2,"s":"S1","d":210,"v":1.12},{"c":2017,"r":2,"s":"S1","d":235,"v":1.18},{"c":2017,"r":2,"s":"S1","d":260,"v":1.22},{"c":2017,"r":2,"s":"S1","d":280,"v":1.25},{"c":2017,"r":2,"s":"S1","d":305,"v":1.27},
{"c":2017,"r":2,"s":"S2","d":88,"v":0},{"c":2017,"r":2,"s":"S2","d":110,"v":0.05},{"c":2017,"r":2,"s":"S2","d":125,"v":0.15},{"c":2017,"r":2,"s":"S2","d":140,"v":0.45},{"c":2017,"r":2,"s":"S2","d":155,"v":0.65},{"c":2017,"r":2,"s":"S2","d":170,"v":0.82},{"c":2017,"r":2,"s":"S2","d":190,"v":1.0},{"c":2017,"r":2,"s":"S2","d":210,"v":1.15},{"c":2017,"r":2,"s":"S2","d":235,"v":1.23},{"c":2017,"r":2,"s":"S2","d":260,"v":1.28},{"c":2017,"r":2,"s":"S2","d":280,"v":1.32},{"c":2017,"r":2,"s":"S2","d":305,"v":1.34},
{"c":2017,"r":2,"s":"S3","d":88,"v":0},{"c":2017,"r":2,"s":"S3","d":110,"v":0.08},{"c":2017,"r":2,"s":"S3","d":125,"v":0.25},{"c":2017,"r":2,"s":"S3","d":140,"v":0.55},{"c":2017,"r":2,"s":"S3","d":155,"v":0.75},{"c":2017,"r":2,"s":"S3","d":170,"v":0.92},{"c":2017,"r":2,"s":"S3","d":190,"v":1.12},{"c":2017,"r":2,"s":"S3","d":210,"v":1.3},{"c":2017,"r":2,"s":"S3","d":235,"v":1.35},{"c":2017,"r":2,"s":"S3","d":260,"v":1.4},{"c":2017,"r":2,"s":"S3","d":280,"v":1.45},{"c":2017,"r":2,"s":"S3","d":305,"v":1.48},
{"c":2017,"r":2,"s":"S4","d":88,"v":0},{"c":2017,"r":2,"s":"S4","d":110,"v":0.1},{"c":2017,"r":2,"s":"S4","d":125,"v":0.35},{"c":2017,"r":2,"s":"S4","d":140,"v":0.6},{"c":2017,"r":2,"s":"S4","d":155,"v":0.8},{"c":2017,"r":2,"s":"S4","d":170,"v":1.05},{"c":2017,"r":2,"s":"S4","d":190,"v":1.3},{"c":2017,"r":2,"s":"S4","d":210,"v":1.4},{"c":2017,"r":2,"s":"S4","d":235,"v":1.45},{"c":2017,"r":2,"s":"S4","d":260,"v":1.45},{"c":2017,"r":2,"s":"S4","d":280,"v":1.45},{"c":2017,"r":2,"s":"S4","d":305,"v":1.5},
{"c":2017,"r":2,"s":"S5","d":88,"v":0},{"c":2017,"r":2,"s":"S5","d":110,"v":0.15},{"c":2017,"r":2,"s":"S5","d":125,"v":0.35},{"c":2017,"r":2,"s":"S5","d":140,"v":0.75},{"c":2017,"r":2,"s":"S5","d":155,"v":1.2},{"c":2017,"r":2,"s":"S5","d":170,"v":1.56},{"c":2017,"r":2,"s":"S5","d":190,"v":2.0},{"c":2017,"r":2,"s":"S5","d":210,"v":2.52},{"c":2017,"r":2,"s":"S5","d":235,"v":2.8},{"c":2017,"r":2,"s":"S5","d":260,"v":2.86},{"c":2017,"r":2,"s":"S5","d":280,"v":2.92},{"c":2017,"r":2,"s":"S5","d":305,"v":3.0},
{"c":2018,"r":2,"s":"S1","d":109,"v":0},{"c":2018,"r":2,"s":"S1","d":120,"v":0.18},{"c":2018,"r":2,"s":"S1","d":135,"v":0.38},{"c":2018,"r":2,"s":"S1","d":155,"v":0.7},{"c":2018,"r":2,"s":"S1","d":175,"v":0.8},{"c":2018,"r":2,"s":"S1","d":195,"v":0.75},{"c":2018,"r":2,"s":"S1","d":215,"v":0.7},{"c":2018,"r":2,"s":"S1","d":235,"v":0.68},{"c":2018,"r":2,"s":"S1","d":260,"v":0.75},{"c":2018,"r":2,"s":"S1","d":285,"v":0.82},{"c":2018,"r":2,"s":"S1","d":305,"v":0.88},
{"c":2018,"r":2,"s":"S3","d":109,"v":0},{"c":2018,"r":2,"s":"S3","d":120,"v":0.3},{"c":2018,"r":2,"s":"S3","d":135,"v":0.65},{"c":2018,"r":2,"s":"S3","d":155,"v":1.08},{"c":2018,"r":2,"s":"S3","d":175,"v":1.2},{"c":2018,"r":2,"s":"S3","d":195,"v":1.12},{"c":2018,"r":2,"s":"S3","d":215,"v":1.12},{"c":2018,"r":2,"s":"S3","d":235,"v":1.15},{"c":2018,"r":2,"s":"S3","d":260,"v":1.05},{"c":2018,"r":2,"s":"S3","d":285,"v":0.88},{"c":2018,"r":2,"s":"S3","d":305,"v":1.2},
{"c":2018,"r":2,"s":"S4","d":109,"v":0},{"c":2018,"r":2,"s":"S4","d":120,"v":0.2},{"c":2018,"r":2,"s":"S4","d":135,"v":0.4},{"c":2018,"r":2,"s":"S4","d":155,"v":0.72},{"c":2018,"r":2,"s":"S4","d":175,"v":0.78},{"c":2018,"r":2,"s":"S4","d":195,"v":0.7},{"c":2018,"r":2,"s":"S4","d":215,"v":0.72},{"c":2018,"r":2,"s":"S4","d":235,"v":0.65},{"c":2018,"r":2,"s":"S4","d":260,"v":0.72},{"c":2018,"r":2,"s":"S4","d":285,"v":0.8},{"c":2018,"r":2,"s":"S4","d":305,"v":0.88},
{"c":2018,"r":2,"s":"S5","d":109,"v":0},{"c":2018,"r":2,"s":"S5","d":120,"v":0.45},{"c":2018,"r":2,"s":"S5","d":135,"v":0.85},{"c":2018,"r":2,"s":"S5","d":155,"v":1.2},{"c":2018,"r":2,"s":"S5","d":175,"v":1.45},{"c":2018,"r":2,"s":"S5","d":195,"v":1.92},{"c":2018,"r":2,"s":"S5","d":215,"v":1.96},{"c":2018,"r":2,"s":"S5","d":235,"v":2.0},{"c":2018,"r":2,"s":"S5","d":260,"v":1.95},{"c":2018,"r":2,"s":"S5","d":285,"v":2.07},{"c":2018,"r":2,"s":"S5","d":305,"v":2.1},
{"c":2012,"r":3,"s":"S1","d":88,"v":0},{"c":2012,"r":3,"s":"S1","d":110,"v":0},{"c":2012,"r":3,"s":"S1","d":125,"v":0},{"c":2012,"r":3,"s":"S1","d":140,"v":0.1},{"c":2012,"r":3,"s":"S1","d":155,"v":0.3},{"c":2012,"r":3,"s":"S1","d":170,"v":0.5},{"c":2012,"r":3,"s":"S1","d":185,"v":0.58},{"c":2012,"r":3,"s":"S1","d":200,"v":0.6},{"c":2012,"r":3,"s":"S1","d":215,"v":0.58},{"c":2012,"r":3,"s":"S1","d":240,"v":0.56},{"c":2012,"r":3,"s":"S1","d":270,"v":0.58},{"c":2012,"r":3,"s":"S1","d":305,"v":0.63},
{"c":2012,"r":3,"s":"S2","d":88,"v":0},{"c":2012,"r":3,"s":"S2","d":110,"v":0},{"c":2012,"r":3,"s":"S2","d":125,"v":0.02},{"c":2012,"r":3,"s":"S2","d":140,"v":0.28},{"c":2012,"r":3,"s":"S2","d":155,"v":0.55},{"c":2012,"r":3,"s":"S2","d":170,"v":0.82},{"c":2012,"r":3,"s":"S2","d":185,"v":1.05},{"c":2012,"r":3,"s":"S2","d":200,"v":1.22},{"c":2012,"r":3,"s":"S2","d":215,"v":1.25},{"c":2012,"r":3,"s":"S2","d":240,"v":1.22},{"c":2012,"r":3,"s":"S2","d":270,"v":1.22},{"c":2012,"r":3,"s":"S2","d":305,"v":1.27},
{"c":2012,"r":3,"s":"S3","d":88,"v":0},{"c":2012,"r":3,"s":"S3","d":110,"v":0},{"c":2012,"r":3,"s":"S3","d":125,"v":0},{"c":2012,"r":3,"s":"S3","d":140,"v":0.02},{"c":2012,"r":3,"s":"S3","d":155,"v":0.12},{"c":2012,"r":3,"s":"S3","d":170,"v":0.27},{"c":2012,"r":3,"s":"S3","d":185,"v":0.38},{"c":2012,"r":3,"s":"S3","d":200,"v":0.42},{"c":2012,"r":3,"s":"S3","d":215,"v":0.38},{"c":2012,"r":3,"s":"S3","d":240,"v":0.37},{"c":2012,"r":3,"s":"S3","d":270,"v":0.37},{"c":2012,"r":3,"s":"S3","d":305,"v":0.45},
{"c":2012,"r":3,"s":"S4","d":88,"v":0},{"c":2012,"r":3,"s":"S4","d":110,"v":-0.02},{"c":2012,"r":3,"s":"S4","d":125,"v":-0.03},{"c":2012,"r":3,"s":"S4","d":140,"v":-0.03},{"c":2012,"r":3,"s":"S4","d":155,"v":0.2},{"c":2012,"r":3,"s":"S4","d":170,"v":0.45},{"c":2012,"r":3,"s":"S4","d":185,"v":0.6},{"c":2012,"r":3,"s":"S4","d":200,"v":0.65},{"c":2012,"r":3,"s":"S4","d":215,"v":0.63},{"c":2012,"r":3,"s":"S4","d":240,"v":0.6},{"c":2012,"r":3,"s":"S4","d":270,"v":0.62},{"c":2012,"r":3,"s":"S4","d":305,"v":0.65},
{"c":2012,"r":3,"s":"S5","d":88,"v":0},{"c":2012,"r":3,"s":"S5","d":110,"v":0},{"c":2012,"r":3,"s":"S5","d":125,"v":0},{"c":2012,"r":3,"s":"S5","d":140,"v":0.18},{"c":2012,"r":3,"s":"S5","d":155,"v":0.5},{"c":2012,"r":3,"s":"S5","d":170,"v":0.85},{"c":2012,"r":3,"s":"S5","d":185,"v":1.15},{"c":2012,"r":3,"s":"S5","d":200,"v":1.38},{"c":2012,"r":3,"s":"S5","d":215,"v":1.42},{"c":2012,"r":3,"s":"S5","d":240,"v":1.4},{"c":2012,"r":3,"s":"S5","d":270,"v":1.42},{"c":2012,"r":3,"s":"S5","d":305,"v":1.46},
{"c":2013,"r":3,"s":"S1","d":88,"v":0},{"c":2013,"r":3,"s":"S1","d":110,"v":0},{"c":2013,"r":3,"s":"S1","d":125,"v":0},{"c":2013,"r":3,"s":"S1","d":140,"v":0.18},{"c":2013,"r":3,"s":"S1","d":155,"v":0.4},{"c":2013,"r":3,"s":"S1","d":170,"v":0.65},{"c":2013,"r":3,"s":"S1","d":185,"v":0.9},{"c":2013,"r":3,"s":"S1","d":200,"v":1.12},{"c":2013,"r":3,"s":"S1","d":215,"v":1.18},{"c":2013,"r":3,"s":"S1","d":240,"v":1.17},{"c":2013,"r":3,"s":"S1","d":270,"v":1.17},{"c":2013,"r":3,"s":"S1","d":305,"v":1.17},
{"c":2013,"r":3,"s":"S2","d":88,"v":0},{"c":2013,"r":3,"s":"S2","d":110,"v":0},{"c":2013,"r":3,"s":"S2","d":125,"v":0},{"c":2013,"r":3,"s":"S2","d":140,"v":0.25},{"c":2013,"r":3,"s":"S2","d":155,"v":0.55},{"c":2013,"r":3,"s":"S2","d":170,"v":0.85},{"c":2013,"r":3,"s":"S2","d":185,"v":1.12},{"c":2013,"r":3,"s":"S2","d":200,"v":1.3},{"c":2013,"r":3,"s":"S2","d":215,"v":1.36},{"c":2013,"r":3,"s":"S2","d":240,"v":1.32},{"c":2013,"r":3,"s":"S2","d":270,"v":1.32},{"c":2013,"r":3,"s":"S2","d":305,"v":1.32},
{"c":2013,"r":3,"s":"S3","d":88,"v":0},{"c":2013,"r":3,"s":"S3","d":110,"v":0},{"c":2013,"r":3,"s":"S3","d":125,"v":-0.02},{"c":2013,"r":3,"s":"S3","d":140,"v":0.12},{"c":2013,"r":3,"s":"S3","d":155,"v":0.35},{"c":2013,"r":3,"s":"S3","d":170,"v":0.6},{"c":2013,"r":3,"s":"S3","d":185,"v":0.85},{"c":2013,"r":3,"s":"S3","d":200,"v":1.04},{"c":2013,"r":3,"s":"S3","d":215,"v":1.1},{"c":2013,"r":3,"s":"S3","d":240,"v":1.1},{"c":2013,"r":3,"s":"S3","d":270,"v":1.12},{"c":2013,"r":3,"s":"S3","d":305,"v":1.13},
{"c":2013,"r":3,"s":"S5","d":88,"v":0},{"c":2013,"r":3,"s":"S5","d":110,"v":0},{"c":2013,"r":3,"s":"S5","d":125,"v":0},{"c":2013,"r":3,"s":"S5","d":140,"v":0.4},{"c":2013,"r":3,"s":"S5","d":155,"v":0.85},{"c":2013,"r":3,"s":"S5","d":170,"v":1.3},{"c":2013,"r":3,"s":"S5","d":185,"v":1.7},{"c":2013,"r":3,"s":"S5","d":200,"v":1.95},{"c":2013,"r":3,"s":"S5","d":215,"v":2.08},{"c":2013,"r":3,"s":"S5","d":240,"v":2.11},{"c":2013,"r":3,"s":"S5","d":270,"v":2.15},{"c":2013,"r":3,"s":"S5","d":305,"v":2.15},
{"c":2014,"r":3,"s":"S1","d":88,"v":0},{"c":2014,"r":3,"s":"S1","d":110,"v":0},{"c":2014,"r":3,"s":"S1","d":125,"v":0.02},{"c":2014,"r":3,"s":"S1","d":140,"v":0.2},{"c":2014,"r":3,"s":"S1","d":155,"v":0.4},{"c":2014,"r":3,"s":"S1","d":170,"v":0.66},{"c":2014,"r":3,"s":"S1","d":185,"v":0.95},{"c":2014,"r":3,"s":"S1","d":200,"v":1.1},{"c":2014,"r":3,"s":"S1","d":215,"v":1.11},{"c":2014,"r":3,"s":"S1","d":240,"v":1.12},{"c":2014,"r":3,"s":"S1","d":270,"v":1.13},{"c":2014,"r":3,"s":"S1","d":305,"v":1.14},
{"c":2014,"r":3,"s":"S2","d":88,"v":0},{"c":2014,"r":3,"s":"S2","d":110,"v":0},{"c":2014,"r":3,"s":"S2","d":125,"v":0.02},{"c":2014,"r":3,"s":"S2","d":140,"v":0.25},{"c":2014,"r":3,"s":"S2","d":155,"v":0.45},{"c":2014,"r":3,"s":"S2","d":170,"v":0.72},{"c":2014,"r":3,"s":"S2","d":185,"v":1.05},{"c":2014,"r":3,"s":"S2","d":200,"v":1.28},{"c":2014,"r":3,"s":"S2","d":215,"v":1.31},{"c":2014,"r":3,"s":"S2","d":240,"v":1.33},{"c":2014,"r":3,"s":"S2","d":270,"v":1.34},{"c":2014,"r":3,"s":"S2","d":305,"v":1.35},
{"c":2014,"r":3,"s":"S3","d":88,"v":0},{"c":2014,"r":3,"s":"S3","d":110,"v":0},{"c":2014,"r":3,"s":"S3","d":125,"v":0.02},{"c":2014,"r":3,"s":"S3","d":140,"v":0.22},{"c":2014,"r":3,"s":"S3","d":155,"v":0.42},{"c":2014,"r":3,"s":"S3","d":170,"v":0.6},{"c":2014,"r":3,"s":"S3","d":185,"v":0.8},{"c":2014,"r":3,"s":"S3","d":200,"v":0.9},{"c":2014,"r":3,"s":"S3","d":215,"v":0.92},{"c":2014,"r":3,"s":"S3","d":240,"v":0.93},{"c":2014,"r":3,"s":"S3","d":270,"v":0.93},{"c":2014,"r":3,"s":"S3","d":305,"v":0.94},
{"c":2014,"r":3,"s":"S4","d":88,"v":0},{"c":2014,"r":3,"s":"S4","d":110,"v":0},{"c":2014,"r":3,"s":"S4","d":125,"v":0},{"c":2014,"r":3,"s":"S4","d":140,"v":0.22},{"c":2014,"r":3,"s":"S4","d":155,"v":0.48},{"c":2014,"r":3,"s":"S4","d":170,"v":0.88},{"c":2014,"r":3,"s":"S4","d":185,"v":1.28},{"c":2014,"r":3,"s":"S4","d":200,"v":1.5},{"c":2014,"r":3,"s":"S4","d":215,"v":1.52},{"c":2014,"r":3,"s":"S4","d":240,"v":1.53},{"c":2014,"r":3,"s":"S4","d":270,"v":1.53},{"c":2014,"r":3,"s":"S4","d":305,"v":1.54},
{"c":2014,"r":3,"s":"S5","d":88,"v":0},{"c":2014,"r":3,"s":"S5","d":110,"v":0},{"c":2014,"r":3,"s":"S5","d":125,"v":0.1},{"c":2014,"r":3,"s":"S5","d":140,"v":0.45},{"c":2014,"r":3,"s":"S5","d":155,"v":1.02},{"c":2014,"r":3,"s":"S5","d":170,"v":1.52},{"c":2014,"r":3,"s":"S5","d":185,"v":1.9},{"c":2014,"r":3,"s":"S5","d":200,"v":2.2},{"c":2014,"r":3,"s":"S5","d":215,"v":2.3},{"c":2014,"r":3,"s":"S5","d":240,"v":2.35},{"c":2014,"r":3,"s":"S5","d":270,"v":2.37},{"c":2014,"r":3,"s":"S5","d":305,"v":2.37},
{"c":2015,"r":3,"s":"S1","d":88,"v":0},{"c":2015,"r":3,"s":"S1","d":110,"v":-0.02},{"c":2015,"r":3,"s":"S1","d":125,"v":-0.02},{"c":2015,"r":3,"s":"S1","d":140,"v":0.02},{"c":2015,"r":3,"s":"S1","d":155,"v":0.2},{"c":2015,"r":3,"s":"S1","d":170,"v":0.55},{"c":2015,"r":3,"s":"S1","d":185,"v":0.88},{"c":2015,"r":3,"s":"S1","d":200,"v":1.06},{"c":2015,"r":3,"s":"S1","d":215,"v":1.1},{"c":2015,"r":3,"s":"S1","d":240,"v":1.06},{"c":2015,"r":3,"s":"S1","d":270,"v":1.06},{"c":2015,"r":3,"s":"S1","d":305,"v":1.12},
{"c":2015,"r":3,"s":"S2","d":88,"v":0},{"c":2015,"r":3,"s":"S2","d":110,"v":-0.02},{"c":2015,"r":3,"s":"S2","d":125,"v":0.02},{"c":2015,"r":3,"s":"S2","d":140,"v":0.2},{"c":2015,"r":3,"s":"S2","d":155,"v":0.5},{"c":2015,"r":3,"s":"S2","d":170,"v":0.92},{"c":2015,"r":3,"s":"S2","d":185,"v":1.25},{"c":2015,"r":3,"s":"S2","d":200,"v":1.48},{"c":2015,"r":3,"s":"S2","d":215,"v":1.58},{"c":2015,"r":3,"s":"S2","d":240,"v":1.57},{"c":2015,"r":3,"s":"S2","d":270,"v":1.58},{"c":2015,"r":3,"s":"S2","d":305,"v":1.58},
{"c":2015,"r":3,"s":"S4","d":88,"v":0},{"c":2015,"r":3,"s":"S4","d":110,"v":-0.03},{"c":2015,"r":3,"s":"S4","d":125,"v":-0.03},{"c":2015,"r":3,"s":"S4","d":140,"v":0.12},{"c":2015,"r":3,"s":"S4","d":155,"v":0.42},{"c":2015,"r":3,"s":"S4","d":170,"v":0.87},{"c":2015,"r":3,"s":"S4","d":185,"v":1.2},{"c":2015,"r":3,"s":"S4","d":200,"v":1.48},{"c":2015,"r":3,"s":"S4","d":215,"v":1.63},{"c":2015,"r":3,"s":"S4","d":240,"v":1.6},{"c":2015,"r":3,"s":"S4","d":270,"v":1.65},{"c":2015,"r":3,"s":"S4","d":305,"v":1.69},
{"c":2015,"r":3,"s":"S5","d":88,"v":0},{"c":2015,"r":3,"s":"S5","d":110,"v":-0.02},{"c":2015,"r":3,"s":"S5","d":125,"v":0.05},{"c":2015,"r":3,"s":"S5","d":140,"v":0.38},{"c":2015,"r":3,"s":"S5","d":155,"v":0.8},{"c":2015,"r":3,"s":"S5","d":170,"v":1.22},{"c":2015,"r":3,"s":"S5","d":185,"v":1.68},{"c":2015,"r":3,"s":"S5","d":200,"v":1.92},{"c":2015,"r":3,"s":"S5","d":215,"v":2.02},{"c":2015,"r":3,"s":"S5","d":240,"v":1.95},{"c":2015,"r":3,"s":"S5","d":270,"v":2.0},{"c":2015,"r":3,"s":"S5","d":305,"v":2.03},
{"c":2016,"r":3,"s":"S2","d":88,"v":0},{"c":2016,"r":3,"s":"S2","d":110,"v":0},{"c":2016,"r":3,"s":"S2","d":125,"v":0},{"c":2016,"r":3,"s":"S2","d":140,"v":0.2},{"c":2016,"r":3,"s":"S2","d":155,"v":0.5},{"c":2016,"r":3,"s":"S2","d":170,"v":0.93},{"c":2016,"r":3,"s":"S2","d":185,"v":1.18},{"c":2016,"r":3,"s":"S2","d":200,"v":1.28},{"c":2016,"r":3,"s":"S2","d":215,"v":1.3},{"c":2016,"r":3,"s":"S2","d":240,"v":1.28},{"c":2016,"r":3,"s":"S2","d":270,"v":1.27},{"c":2016,"r":3,"s":"S2","d":305,"v":1.34},
{"c":2016,"r":3,"s":"S4","d":88,"v":0},{"c":2016,"r":3,"s":"S4","d":110,"v":0},{"c":2016,"r":3,"s":"S4","d":125,"v":0},{"c":2016,"r":3,"s":"S4","d":140,"v":0.05},{"c":2016,"r":3,"s":"S4","d":155,"v":0.25},{"c":2016,"r":3,"s":"S4","d":170,"v":0.65},{"c":2016,"r":3,"s":"S4","d":185,"v":0.95},{"c":2016,"r":3,"s":"S4","d":200,"v":1.05},{"c":2016,"r":3,"s":"S4","d":215,"v":1.1},{"c":2016,"r":3,"s":"S4","d":240,"v":1.05},{"c":2016,"r":3,"s":"S4","d":270,"v":1.02},{"c":2016,"r":3,"s":"S4","d":305,"v":1.13},
{"c":2016,"r":3,"s":"S5","d":88,"v":0},{"c":2016,"r":3,"s":"S5","d":110,"v":0},{"c":2016,"r":3,"s":"S5","d":125,"v":0.02},{"c":2016,"r":3,"s":"S5","d":140,"v":0.35},{"c":2016,"r":3,"s":"S5","d":155,"v":0.8},{"c":2016,"r":3,"s":"S5","d":170,"v":1.24},{"c":2016,"r":3,"s":"S5","d":185,"v":1.52},{"c":2016,"r":3,"s":"S5","d":200,"v":1.57},{"c":2016,"r":3,"s":"S5","d":215,"v":1.58},{"c":2016,"r":3,"s":"S5","d":240,"v":1.55},{"c":2016,"r":3,"s":"S5","d":270,"v":1.52},{"c":2016,"r":3,"s":"S5","d":305,"v":1.62},
{"c":2017,"r":3,"s":"S1","d":88,"v":0},{"c":2017,"r":3,"s":"S1","d":110,"v":0},{"c":2017,"r":3,"s":"S1","d":125,"v":0},{"c":2017,"r":3,"s":"S1","d":140,"v":0},{"c":2017,"r":3,"s":"S1","d":155,"v":0.25},{"c":2017,"r":3,"s":"S1","d":170,"v":0.5},{"c":2017,"r":3,"s":"S1","d":185,"v":0.66},{"c":2017,"r":3,"s":"S1","d":200,"v":0.69},{"c":2017,"r":3,"s":"S1","d":215,"v":0.7},{"c":2017,"r":3,"s":"S1","d":240,"v":0.7},{"c":2017,"r":3,"s":"S1","d":270,"v":0.71},{"c":2017,"r":3,"s":"S1","d":305,"v":0.72},
{"c":2017,"r":3,"s":"S2","d":88,"v":0},{"c":2017,"r":3,"s":"S2","d":110,"v":0},{"c":2017,"r":3,"s":"S2","d":125,"v":0},{"c":2017,"r":3,"s":"S2","d":140,"v":0.05},{"c":2017,"r":3,"s":"S2","d":155,"v":0.42},{"c":2017,"r":3,"s":"S2","d":170,"v":0.75},{"c":2017,"r":3,"s":"S2","d":185,"v":0.98},{"c":2017,"r":3,"s":"S2","d":200,"v":1.07},{"c":2017,"r":3,"s":"S2","d":215,"v":1.08},{"c":2017,"r":3,"s":"S2","d":240,"v":1.09},{"c":2017,"r":3,"s":"S2","d":270,"v":1.1},{"c":2017,"r":3,"s":"S2","d":305,"v":1.11},
{"c":2017,"r":3,"s":"S3","d":88,"v":0},{"c":2017,"r":3,"s":"S3","d":110,"v":0},{"c":2017,"r":3,"s":"S3","d":125,"v":0},{"c":2017,"r":3,"s":"S3","d":140,"v":0},{"c":2017,"r":3,"s":"S3","d":155,"v":0.23},{"c":2017,"r":3,"s":"S3","d":170,"v":0.48},{"c":2017,"r":3,"s":"S3","d":185,"v":0.65},{"c":2017,"r":3,"s":"S3","d":200,"v":0.68},{"c":2017,"r":3,"s":"S3","d":215,"v":0.69},{"c":2017,"r":3,"s":"S3","d":240,"v":0.7},{"c":2017,"r":3,"s":"S3","d":270,"v":0.71},{"c":2017,"r":3,"s":"S3","d":305,"v":0.72},
{"c":2017,"r":3,"s":"S4","d":88,"v":0},{"c":2017,"r":3,"s":"S4","d":110,"v":0},{"c":2017,"r":3,"s":"S4","d":125,"v":0},{"c":2017,"r":3,"s":"S4","d":140,"v":0.02},{"c":2017,"r":3,"s":"S4","d":155,"v":0.45},{"c":2017,"r":3,"s":"S4","d":170,"v":0.87},{"c":2017,"r":3,"s":"S4","d":185,"v":1.17},{"c":2017,"r":3,"s":"S4","d":200,"v":1.5},{"c":2017,"r":3,"s":"S4","d":215,"v":1.8},{"c":2017,"r":3,"s":"S4","d":240,"v":1.95},{"c":2017,"r":3,"s":"S4","d":270,"v":1.96},{"c":2017,"r":3,"s":"S4","d":305,"v":1.97},
{"c":2017,"r":3,"s":"S5","d":88,"v":0},{"c":2017,"r":3,"s":"S5","d":110,"v":0},{"c":2017,"r":3,"s":"S5","d":125,"v":0},{"c":2017,"r":3,"s":"S5","d":140,"v":0.12},{"c":2017,"r":3,"s":"S5","d":155,"v":0.5},{"c":2017,"r":3,"s":"S5","d":170,"v":0.85},{"c":2017,"r":3,"s":"S5","d":185,"v":1.12},{"c":2017,"r":3,"s":"S5","d":200,"v":1.32},{"c":2017,"r":3,"s":"S5","d":215,"v":1.4},{"c":2017,"r":3,"s":"S5","d":240,"v":1.38},{"c":2017,"r":3,"s":"S5","d":270,"v":1.4},{"c":2017,"r":3,"s":"S5","d":305,"v":1.43},
{"c":2018,"r":3,"s":"S2","d":88,"v":0},{"c":2018,"r":3,"s":"S2","d":110,"v":-0.03},{"c":2018,"r":3,"s":"S2","d":125,"v":0.35},{"c":2018,"r":3,"s":"S2","d":140,"v":0.9},{"c":2018,"r":3,"s":"S2","d":155,"v":1.38},{"c":2018,"r":3,"s":"S2","d":170,"v":1.7},{"c":2018,"r":3,"s":"S2","d":185,"v":1.78},{"c":2018,"r":3,"s":"S2","d":200,"v":1.8},{"c":2018,"r":3,"s":"S2","d":215,"v":1.78},{"c":2018,"r":3,"s":"S2","d":240,"v":1.75},{"c":2018,"r":3,"s":"S2","d":270,"v":1.74},{"c":2018,"r":3,"s":"S2","d":305,"v":1.8},
{"c":2018,"r":3,"s":"S3","d":88,"v":0},{"c":2018,"r":3,"s":"S3","d":110,"v":-0.04},{"c":2018,"r":3,"s":"S3","d":125,"v":-0.02},{"c":2018,"r":3,"s":"S3","d":140,"v":0.3},{"c":2018,"r":3,"s":"S3","d":155,"v":0.68},{"c":2018,"r":3,"s":"S3","d":170,"v":0.88},{"c":2018,"r":3,"s":"S3","d":185,"v":0.95},{"c":2018,"r":3,"s":"S3","d":200,"v":0.95},{"c":2018,"r":3,"s":"S3","d":215,"v":0.88},{"c":2018,"r":3,"s":"S3","d":240,"v":0.78},{"c":2018,"r":3,"s":"S3","d":270,"v":0.8},{"c":2018,"r":3,"s":"S3","d":305,"v":0.85},
{"c":2018,"r":3,"s":"S4","d":88,"v":0},{"c":2018,"r":3,"s":"S4","d":110,"v":-0.06},{"c":2018,"r":3,"s":"S4","d":125,"v":0.3},{"c":2018,"r":3,"s":"S4","d":140,"v":0.85},{"c":2018,"r":3,"s":"S4","d":155,"v":1.4},{"c":2018,"r":3,"s":"S4","d":170,"v":1.8},{"c":2018,"r":3,"s":"S4","d":185,"v":1.93},{"c":2018,"r":3,"s":"S4","d":200,"v":1.94},{"c":2018,"r":3,"s":"S4","d":215,"v":1.92},{"c":2018,"r":3,"s":"S4","d":240,"v":1.89},{"c":2018,"r":3,"s":"S4","d":270,"v":1.93},{"c":2018,"r":3,"s":"S4","d":305,"v":2.0},
{"c":2018,"r":3,"s":"S5","d":88,"v":0},{"c":2018,"r":3,"s":"S5","d":110,"v":-0.06},{"c":2018,"r":3,"s":"S5","d":125,"v":0.2},{"c":2018,"r":3,"s":"S5","d":140,"v":0.72},{"c":2018,"r":3,"s":"S5","d":155,"v":1.08},{"c":2018,"r":3,"s":"S5","d":170,"v":1.32},{"c":2018,"r":3,"s":"S5","d":185,"v":1.42},{"c":2018,"r":3,"s":"S5","d":200,"v":1.4},{"c":2018,"r":3,"s":"S5","d":215,"v":1.38},{"c":2018,"r":3,"s":"S5","d":240,"v":1.36},{"c":2018,"r":3,"s":"S5","d":270,"v":1.38},{"c":2018,"r":3,"s":"S5","d":305,"v":1.46}
]},
"facet":{
"column":{"field":"c","type":"ordinal","header":{"title":null,"labelFontSize":47,"labelFont":"Liberation Sans","labelColor":"black","labelPadding":0}},
"row":{"field":"r","type":"ordinal","header":{"title":"Stem diameter change [µm x1000]","titleOrient":"left","titleFontSize":48,"titleFontWeight":"normal","titleFont":"Liberation Sans","titleColor":"black","titlePadding":6,"labelOrient":"right","labelAngle":90,"labelFontStyle":"italic","labelFont":"Liberation Sans","labelFontSize":40,"labelColor":"black","labelPadding":14,"labelExpr":"datum.value==1?'P. sylvestris':datum.value==2?'Q. petraea':'F. sylvatica'"}}
},
"spacing":{"row":13,"column":12},
"spec":{
"width":225,"height":210,
"mark":{"type":"line","strokeWidth":3.5,"opacity":0.9},
"encoding":{
"x":{"field":"d","type":"quantitative","scale":{"domain":[67,327],"nice":false,"zero":false},"axis":{"title":null,"values":[91,121,152,182,213,244,274,305],"labelExpr":"['A','M','J','J','A','S','O','N'][indexof([91,121,152,182,213,244,274,305],datum.value)]","labelFontSize":29,"labelFontWeight":"bold","labelFont":"Liberation Sans","labelColor":"#4D4D4D","labelOverlap":false,"labelFlush":false,"labelPadding":6,"tickSize":8,"tickWidth":2.5,"tickColor":"black","domainColor":"black","domainWidth":3,"grid":false}},
"y":{"field":"v","type":"quantitative","scale":{"domain":[-0.37,3.17],"nice":false,"zero":false},"axis":{"title":null,"values":[0,1,2,3],"labelFontSize":29,"labelFontWeight":"bold","labelFont":"Liberation Sans","labelColor":"#4D4D4D","labelPadding":3,"tickSize":8,"tickWidth":2.5,"tickColor":"black","domainColor":"black","domainWidth":3,"grid":false}},
"color":{"field":"s","type":"nominal","scale":{"domain":["S1","S2","S3","S4","S5"],"range":["#6EBA64","#FDD0A2","#7196C7","#F34A9B","#765770"]},"legend":{"orient":"bottom","direction":"horizontal","title":["Sensor","(increasing tree DBH)"],"titleOrient":"left","titleAlign":"center","titleAnchor":"middle","titleBaseline":"middle","titleLimit":1000,"titleFontSize":29,"titleFontWeight":"normal","titleFont":"Liberation Sans","titleColor":"black","titleLineHeight":32,"titlePadding":-124,"labelFontSize":25,"labelFontWeight":"bold","labelFont":"Liberation Sans","labelColor":"black","labelOffset":20,"symbolType":"square","symbolSize":400,"symbolStrokeWidth":22,"symbolOpacity":1,"columnPadding":-17,"offset":6}}
}
},
"config":{"view":{"stroke":null},"legend":{"layout":{"bottom":{"anchor":"middle"}}}}
}
